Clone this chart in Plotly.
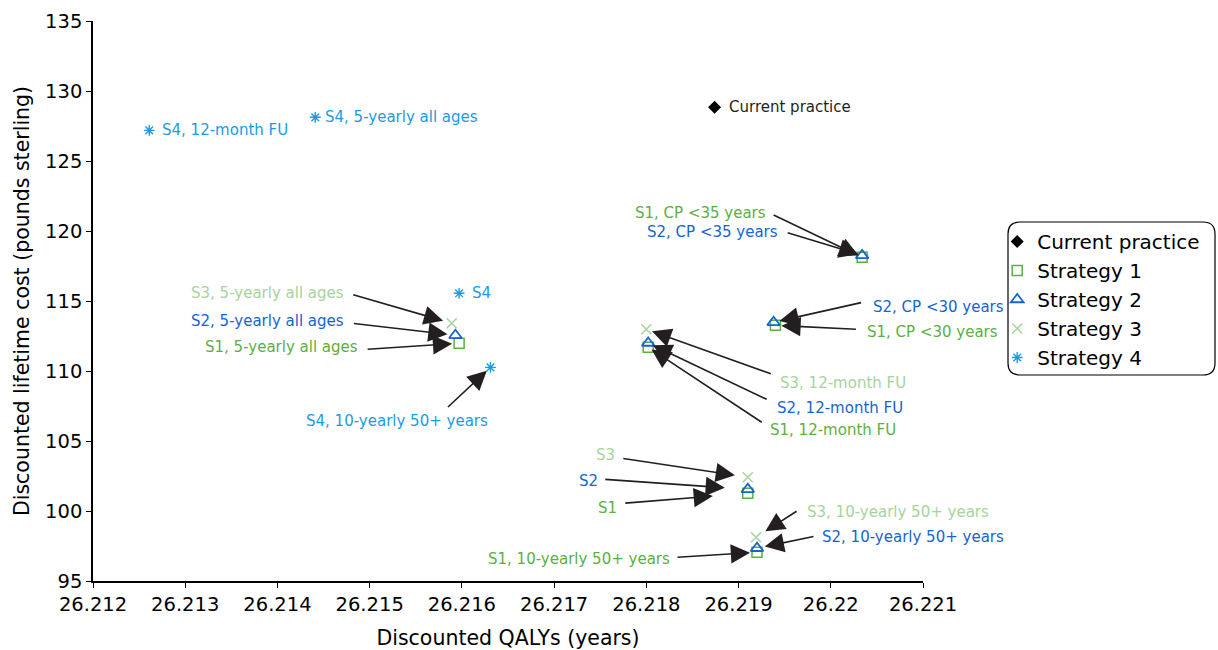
import plotly.graph_objects as go

# ---- data: discounted QALYs (years) and lifetime cost (pounds sterling) ----
cp_qaly = [26.21874]
cp_cost = [128.84]

s1_scen = ["5-yearly all ages", "CP <35 years", "CP <30 years", "12-month FU", "base", "10-yearly 50+ years"]
s1_qaly = [26.21597, 26.22034, 26.21940, 26.21802, 26.21910, 26.21920]
s1_cost = [111.98, 118.12, 113.26, 111.70, 101.27, 97.05]

s2_scen = ["5-yearly all ages", "CP <35 years", "CP <30 years", "12-month FU", "base", "10-yearly 50+ years"]
s2_qaly = [26.21593, 26.22034, 26.21938, 26.21802, 26.21910, 26.21920]
s2_cost = [112.55, 118.26, 113.48, 112.00, 101.55, 97.34]

s3_scen = ["5-yearly all ages", "12-month FU", "base", "10-yearly 50+ years"]
s3_qaly = [26.21589, 26.21800, 26.21910, 26.21919]
s3_cost = [113.41, 112.98, 102.41, 98.12]

s4_scen = ["12-month FU", "5-yearly all ages", "base", "10-yearly 50+ years"]
s4_qaly = [26.21261, 26.21441, 26.21597, 26.21631]
s4_cost = [127.19, 128.12, 115.55, 110.26]

x_ticks = [26.212, 26.213, 26.214, 26.215, 26.216, 26.217, 26.218, 26.219, 26.220, 26.221]
x_tick_text = ["26.212", "26.213", "26.214", "26.215", "26.216", "26.217", "26.218", "26.219", "26.22", "26.221"]
y_ticks = [95, 100, 105, 110, 115, 120, 125, 130, 135]

# ---- styling ----
FONT = "DejaVu Sans"
C_CP = "#000000"
C_S1 = "#5BB042"
C_S2 = "#1565D0"
C_S3 = "#A6D49C"
C_S4 = "#1A9BE6"
ARROW = "#231F20"
LABEL_SIZE = 15

series = {
    "CP": (["Current practice"], cp_qaly, cp_cost),
    "S1": (s1_scen, s1_qaly, s1_cost),
    "S2": (s2_scen, s2_qaly, s2_cost),
    "S3": (s3_scen, s3_qaly, s3_cost),
    "S4": (s4_scen, s4_qaly, s4_cost),
}
colors = {"CP": C_CP, "S1": C_S1, "S2": C_S2, "S3": C_S3, "S4": C_S4}


def point(key, scen):
    names, xs, ys = series[key]
    i = names.index(scen)
    return xs[i], ys[i]


fig = go.Figure()
fig.add_trace(go.Scatter(x=cp_qaly, y=cp_cost, mode="markers", name="Current practice",
                         marker=dict(symbol="diamond", size=10, color=C_CP)))
fig.add_trace(go.Scatter(x=s1_qaly, y=s1_cost, mode="markers", name="Strategy 1",
                         marker=dict(symbol="square-open", size=10, color=C_S1, line=dict(width=1.5))))
fig.add_trace(go.Scatter(x=s2_qaly, y=s2_cost, mode="markers", name="Strategy 2",
                         marker=dict(symbol="triangle-up-open", size=11, color=C_S2, line=dict(width=1.8))))
fig.add_trace(go.Scatter(x=s3_qaly, y=s3_cost, mode="markers", name="Strategy 3",
                         marker=dict(symbol="x-thin-open", size=10, color=C_S3, line=dict(width=1.5))))
fig.add_trace(go.Scatter(x=s4_qaly, y=s4_cost, mode="markers", name="Strategy 4",
                         marker=dict(symbol="asterisk-open", size=9, color=C_S4, line=dict(width=1.4))))

annotations = []

# labels sitting right next to their marker, no arrow
plain_labels = [
    ("CP", "Current practice", "Current practice", 12),
    ("S4", "12-month FU", "S4, 12-month FU", 11),
    ("S4", "5-yearly all ages", "S4, 5-yearly all ages", 8),
    ("S4", "base", "S4", 11),
]
for key, scen, text, dx in plain_labels:
    x, y = point(key, scen)
    col = "#231F20" if key == "CP" else colors[key]
    annotations.append(dict(x=x, y=y, xref="x", yref="y", text=text, showarrow=False,
                            xanchor="left", yanchor="middle", xshift=dx,
                            font=dict(family=FONT, size=LABEL_SIZE, color=col)))

# labels with arrows: (series, scenario, text, text dx, text dy, anchor, tail dx, tail dy, standoff)
arrow_labels = [
    ("S3", "5-yearly all ages", "S3, 5-yearly all ages", -106, -30, "right", -100, -29, 9),
    ("S2", "5-yearly all ages", "S2, 5-yearly all ages", -109, -14, "right", -103, -12, 8),
    ("S1", "5-yearly all ages", "S1, 5-yearly all ages", -99, 4, "right", -93, 6, 7),
    ("S4", "10-yearly 50+ years", "S4, 10-yearly 50+ years", -93, 54, "center", -44, 41, 5),
    ("S1", "CP <35 years", "S1, CP <35 years", -94, -44, "right", -90, -43, 4),
    ("S2", "CP <35 years", "S2, CP <35 years", -82, -23, "right", -76, -23, 4),
    ("S2", "CP <30 years", "S2, CP <30 years", 97, -15, "left", 89, -20, 6),
    ("S1", "CP <30 years", "S1, CP <30 years", 90, 7, "left", 82, 4, 6),
    ("S3", "12-month FU", "S3, 12-month FU", 132, 54, "left", 126, 45, 6),
    ("S2", "12-month FU", "S2, 12-month FU", 127, 65, "left", 120, 57, 5),
    ("S1", "12-month FU", "S1, 12-month FU", 120, 83, "left", 115, 76, 4),
    ("S3", "base", "S3", -131, -22, "right", -126, -19, 13),
    ("S2", "base", "S2", -148, -8, "right", -144, -10, 23),
    ("S1", "base", "S1", -129, 15, "right", -124, 10, 35),
    ("S3", "10-yearly 50+ years", "S3, 10-yearly 50+ years", 49, -25, "left", 42, -27, 11),
    ("S2", "10-yearly 50+ years", "S2, 10-yearly 50+ years", 63, -11, "left", 58, -12, 8),
    ("S1", "10-yearly 50+ years", "S1, 10-yearly 50+ years", -85, 7, "right", -81, 5, 7),
]
for key, scen, text, tdx, tdy, anchor, adx, ady, stand in arrow_labels:
    x, y = point(key, scen)
    annotations.append(dict(x=x, y=y, xref="x", yref="y", text="", showarrow=True,
                            ax=adx, ay=ady, axref="pixel", ayref="pixel",
                            arrowhead=2, arrowsize=2.4, arrowwidth=1.6, arrowcolor=ARROW,
                            standoff=stand))
    annotations.append(dict(x=x, y=y, xref="x", yref="y", text=text, showarrow=False,
                            xanchor=anchor, yanchor="middle", xshift=tdx, yshift=-tdy,
                            font=dict(family=FONT, size=LABEL_SIZE, color=colors[key])))

# rounded frame around the legend (paper coordinates)
PW, PH = 830.0, 560.0
lx0, lx1 = (1008 - 93) / PW, (1215 - 93) / PW
ly0, ly1 = (581 - 375) / PH, (581 - 222) / PH
rx, ry = 12 / PW, 12 / PH
frame = (f"M{lx0 + rx},{ly0} L{lx1 - rx},{ly0} Q{lx1},{ly0} {lx1},{ly0 + ry} "
         f"L{lx1},{ly1 - ry} Q{lx1},{ly1} {lx1 - rx},{ly1} "
         f"L{lx0 + rx},{ly1} Q{lx0},{ly1} {lx0},{ly1 - ry} "
         f"L{lx0},{ly0 + ry} Q{lx0},{ly0} {lx0 + rx},{ly0} Z")

fig.update_layout(
    width=1218, height=650,
    margin=dict(l=93, r=295, t=21, b=69),
    paper_bgcolor="white", plot_bgcolor="white",
    font=dict(family=FONT, size=19, color="#000000"),
    showlegend=True,
    legend=dict(x=lx0 - 0.013, y=ly1 + 0.0, xanchor="left", yanchor="top",
                bgcolor="rgba(0,0,0,0)", borderwidth=0,
                font=dict(family=FONT, size=20, color="#000000"),
                itemwidth=30, tracegroupgap=0),
    shapes=[dict(type="path", path=frame, xref="paper", yref="paper",
                 line=dict(color="#000000", width=1.2), fillcolor="rgba(0,0,0,0)", layer="below")],
    annotations=annotations,
)
fig.update_xaxes(range=[26.212, 26.221], tickvals=x_ticks, ticktext=x_tick_text, automargin=False,
                 showgrid=False, zeroline=False, showline=True, linecolor="#000000", linewidth=1.5,
                 ticks="outside", ticklen=5, tickwidth=1.2, tickcolor="#000000",
                 tickfont=dict(family=FONT, size=19.5),
                 title=dict(text="Discounted QALYs (years)", font=dict(family=FONT, size=20.5), standoff=16))
fig.update_yaxes(range=[95, 135], tickvals=y_ticks, automargin=False,
                 showgrid=False, zeroline=False, showline=True, linecolor="#000000", linewidth=1.5,
                 ticks="outside", ticklen=5, tickwidth=1.2, tickcolor="#000000",
                 tickfont=dict(family=FONT, size=19.5),
                 title=dict(text="Discounted lifetime cost (pounds sterling)", font=dict(family=FONT, size=20.5), standoff=10))

fig.write_html("out.html")
